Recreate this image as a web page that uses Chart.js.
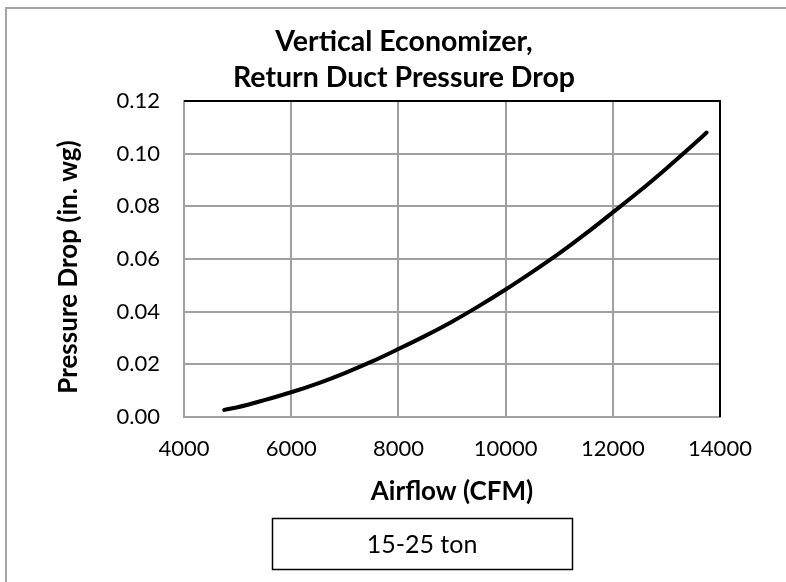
<!DOCTYPE html>
<html>
<head>
<meta charset="utf-8">
<script src="https://cdn.jsdelivr.net/npm/chart.js@4.4.1/dist/chart.umd.min.js"></script>
<style>
  html, body { margin: 0; padding: 0; background: #fff; }
  #wrap { width: 786px; height: 582px; }
</style>
</head>
<body>
<div id="wrap"><canvas id="chart-pd" width="786" height="582"></canvas></div>
<script>
(function () {
  'use strict';

  // values
  const AIRFLOW = [4750, 5000, 5500, 6000, 6500, 7000, 7500, 8000, 8500, 9000, 9500, 10000,
    10500, 11000, 11500, 12000, 12500, 13000, 13500, 13750];
  const PRESSURE_DROP = [0.0027, 0.0037, 0.0064, 0.0094, 0.0128, 0.0167, 0.0210, 0.0258, 0.0308, 0.0362, 0.0421, 0.0484,
    0.0551, 0.0621, 0.0697, 0.0777, 0.0858, 0.0944, 0.1034, 0.1080];
  const SERIES_NAME = '15-25 ton';
  const X_TICKS = [4000, 6000, 8000, 10000, 12000, 14000];
  const Y_TICKS = [0, 0.02, 0.04, 0.06, 0.08, 0.10, 0.12];
  const TITLE_LINES = ['Vertical Economizer,', 'Return Duct Pressure Drop'];
  const X_TITLE = 'Airflow (CFM)';
  const Y_TITLE = 'Pressure Drop (in. wg)';

  const FONT = 'Lato, "Open Sans", sans-serif';
  const GRID = '#a0a0a0';

  // outer frame (only left/top edges are inside the picture)
  var framePlugin = {
    id: 'frame',
    beforeDraw: function (chart) {
      var ctx = chart.ctx;
      ctx.save();
      ctx.fillStyle = '#fff';
      ctx.fillRect(0, 0, chart.width, chart.height);
      ctx.strokeStyle = '#a6a6a6';
      ctx.lineWidth = 2;
      ctx.beginPath();
      ctx.moveTo(6, chart.height);
      ctx.lineTo(6, 8);
      ctx.lineTo(chart.width, 8);
      ctx.stroke();
      ctx.restore();
    }
  };

  // black top/right edge of the plot area
  var plotEdgePlugin = {
    id: 'plotEdge',
    beforeDatasetsDraw: function (chart) {
      var a = chart.chartArea;
      var ctx = chart.ctx;
      ctx.save();
      ctx.strokeStyle = '#000';
      ctx.lineWidth = 2;
      ctx.beginPath();
      ctx.moveTo(a.left, a.top);
      ctx.lineTo(a.right, a.top);
      ctx.lineTo(a.right, a.bottom);
      ctx.stroke();
      ctx.restore();
    }
  };

  // two-line title, y axis title and boxed legend drawn by hand
  var textPlugin = {
    id: 'titleAndLegend',
    afterDraw: function (chart) {
      var ctx = chart.ctx;
      ctx.save();
      ctx.fillStyle = '#000';
      ctx.textAlign = 'center';
      ctx.textBaseline = 'middle';
      ctx.font = 'bold 28.5px ' + FONT;
      TITLE_LINES.forEach(function (t, i) { ctx.fillText(t, 404, 42 + i * 36); });

      // y title sits a bit below the plot centre in the original
      ctx.save();
      ctx.translate(69, 267);
      ctx.rotate(-Math.PI / 2);
      ctx.font = 'bold 26px ' + FONT;
      ctx.fillText(Y_TITLE, 0, 0);
      ctx.restore();

      ctx.strokeStyle = '#000';
      ctx.lineWidth = 1.5;
      ctx.strokeRect(272.5, 518.5, 300, 51);
      ctx.font = '25px ' + FONT;
      ctx.fillText(chart.data.datasets[0].label, 422, 545);
      ctx.restore();
    }
  };

  var points = AIRFLOW.map(function (x, i) { return { x: x, y: PRESSURE_DROP[i] }; });

  new Chart(document.getElementById('chart-pd'), {
    type: 'scatter',
    data: {
      datasets: [{
        label: SERIES_NAME,
        data: points,
        showLine: true,
        borderColor: '#000',
        borderWidth: 4,
        borderCapStyle: 'round',
        pointRadius: 0,
        tension: 0.4,
        cubicInterpolationMode: 'monotone'
      }]
    },
    options: {
      responsive: false,
      animation: false,
      devicePixelRatio: 1,
      layout: { padding: { top: 101, right: 66, bottom: 0, left: 0 } },
      plugins: {
        legend: { display: false },
        tooltip: { enabled: false },
        title: { display: false }
      },
      scales: {
        x: {
          type: 'linear',
          min: X_TICKS[0],
          max: X_TICKS[X_TICKS.length - 1],
          afterBuildTicks: function (s) { s.ticks = X_TICKS.map(function (v) { return { value: v }; }); },
          afterFit: function (s) { s.height = 165; },
          ticks: {
            color: '#000',
            font: { family: FONT, size: 22 },
            padding: 19,
            callback: function (v) { return String(v); }
          },
          grid: { color: GRID, lineWidth: 2, drawTicks: false },
          border: { color: GRID, width: 2 },
          title: {
            display: true,
            text: X_TITLE,
            color: '#000',
            font: { family: FONT, size: 26, weight: 'bold' },
            padding: { top: 0, bottom: 75 }
          }
        },
        y: {
          min: Y_TICKS[0],
          max: Y_TICKS[Y_TICKS.length - 1],
          afterBuildTicks: function (s) { s.ticks = Y_TICKS.map(function (v) { return { value: v }; }); },
          afterFit: function (s) { s.width = 184; },
          ticks: {
            color: '#000',
            font: { family: FONT, size: 22 },
            padding: 24,
            callback: function (v) { return Number(v).toFixed(2); }
          },
          grid: { color: GRID, lineWidth: 2, drawTicks: false },
          border: { color: GRID, width: 2 }
        }
      }
    },
    plugins: [framePlugin, plotEdgePlugin, textPlugin]
  });
})();
</script>
</body>
</html>
